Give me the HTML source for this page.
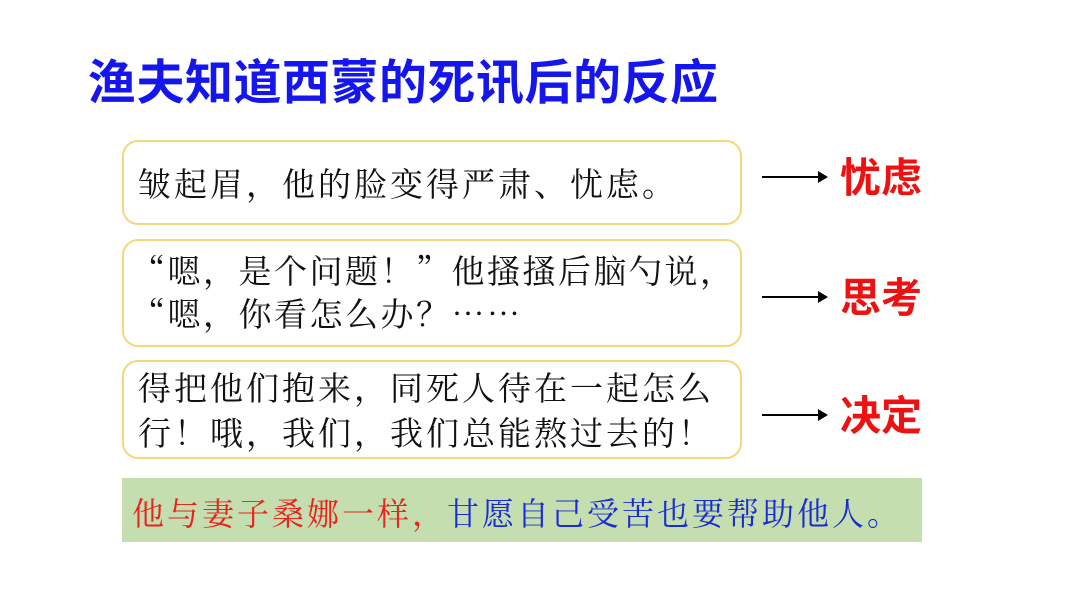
<!DOCTYPE html>
<html><head><meta charset="utf-8"><style>
body{margin:0;width:1080px;height:608px;background:#fff;position:relative;overflow:hidden;font-family:"Noto Serif CJK SC",serif}
.t{position:absolute;left:88px;top:48px;font-family:"Noto Sans CJK SC",sans-serif;font-weight:bold;font-size:48px;letter-spacing:0.5px;color:#1515ee;white-space:nowrap;line-height:60px}
.b{position:absolute;left:122px;width:620px;border:2px solid #f5d67a;border-radius:16px;box-sizing:border-box}
.x{position:absolute;left:138px;font-size:33px;letter-spacing:3px;color:#111;white-space:nowrap;line-height:44px}
.a{position:absolute;left:762px;width:60px;height:2px;background:#000}
.a:after{content:"";position:absolute;right:-6px;top:-5px;border-left:10px solid #000;border-top:6px solid transparent;border-bottom:6px solid transparent}
.l{position:absolute;left:840px;font-family:"Noto Sans CJK SC",sans-serif;font-weight:bold;font-size:41px;color:#ee1111;line-height:50px}
.g{position:absolute;left:122px;top:478px;width:800px;height:64px;background:#c4deb0}
.gt{position:absolute;left:132px;top:490px;font-size:32px;letter-spacing:3px;white-space:nowrap;line-height:44px}
</style></head><body>
<div class="t">渔夫知道西蒙的死讯后的反应</div>
<div class="b" style="top:140px;height:85px"></div>
<div class="x" style="top:161px">皱起眉，他的脸变得严肃、忧虑。</div>
<div class="b" style="top:239px;height:108px"></div>
<div class="x" style="top:248px;left:132px;letter-spacing:2.5px">“嗯，是个问题！”他搔搔后脑勺说，</div>
<div class="x" style="top:291px;left:132px;letter-spacing:2.5px">“嗯，你看怎么办？……</div>
<div class="b" style="top:360px;height:99px"></div>
<div class="x" style="top:365px">得把他们抱来，同死人待在一起怎么</div>
<div class="x" style="top:410px">行！哦，我们，我们总能熬过去的！</div>
<div class="a" style="top:176px"></div><div class="l" style="top:149px">忧虑</div>
<div class="a" style="top:296px"></div><div class="l" style="top:269px">思考</div>
<div class="a" style="top:414px"></div><div class="l" style="top:387px">决定</div>
<div class="g"></div>
<div class="gt"><span style="color:#e8241c">他与妻子桑娜一样，</span><span style="color:#1a2ad6">甘愿自己受苦也要帮助他人。</span></div>
</body></html>
